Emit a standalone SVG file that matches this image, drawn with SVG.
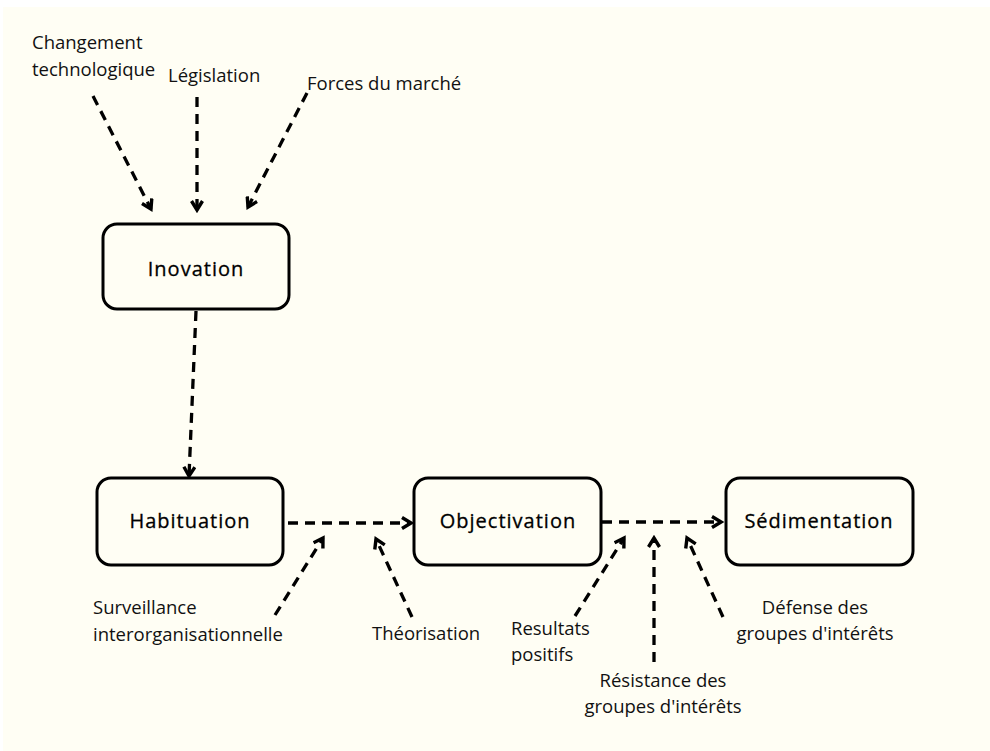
<svg xmlns="http://www.w3.org/2000/svg" width="990" height="751" viewBox="0 0 990 751">
<defs>
<marker id="ah" viewBox="0 0 14 14" refX="11" refY="7" markerWidth="14" markerHeight="14" markerUnits="userSpaceOnUse" orient="auto">
<path d="M2,1.5 L11,7 L2,12.5" fill="none" stroke="#000" stroke-width="3.4"/>
</marker>
<style>
.bg{fill:#FFFEF4}
.box{fill:#FFFEF4;stroke:#000;stroke-width:3}
.bl{font-family:"Open Sans","Noto Sans",sans-serif;font-size:20px;letter-spacing:1px;fill:#000;stroke:#000;stroke-width:0.3;text-anchor:middle}
.lb{font-family:"Open Sans","Noto Sans",sans-serif;font-size:18.5px;fill:#111}
.c{text-anchor:middle}
.ar{fill:none;stroke:#000;stroke-width:3.3;stroke-dasharray:10 7;marker-end:url(#ah)}
</style>
</defs>
<rect width="990" height="751" fill="#fff"/>
<rect class="bg" x="3" y="7" width="987" height="744"/>
<g id="connectors">
<line class="ar" x1="93" y1="96" x2="151" y2="209"/>
<line class="ar" x1="197" y1="97" x2="197" y2="210"/>
<line class="ar" x1="307" y1="93" x2="248" y2="207"/>
<line class="ar" x1="196" y1="311" x2="189" y2="476"/>
<line class="ar" x1="288" y1="523" x2="411" y2="523"/>
<line class="ar" x1="602" y1="522" x2="721" y2="522"/>
<line class="ar" x1="275" y1="615" x2="323" y2="538"/>
<line class="ar" x1="412" y1="617" x2="376" y2="539"/>
<line class="ar" x1="575" y1="616" x2="624" y2="538"/>
<line class="ar" x1="654" y1="662" x2="654" y2="538"/>
<line class="ar" x1="723" y1="617" x2="687" y2="538"/>
</g>
<g id="inovation">
<rect class="box" x="103" y="224" width="186" height="85" rx="14"/>
<text class="bl" x="196" y="276">Inovation</text>
</g>
<g id="habituation">
<rect class="box" x="97" y="478" width="186" height="87" rx="14"/>
<text class="bl" x="190" y="528">Habituation</text>
</g>
<g id="objectivation">
<rect class="box" x="414" y="478" width="187" height="87" rx="14"/>
<text class="bl" x="508" y="528">Objectivation</text>
</g>
<g id="sedimentation">
<rect class="box" x="726" y="478" width="187" height="87" rx="14"/>
<text class="bl" x="819" y="528">Sédimentation</text>
</g>
<g id="labels">
<text class="lb" x="32" y="49">Changement</text>
<text class="lb" x="32" y="76">technologique</text>
<text class="lb" x="168" y="82">Législation</text>
<text class="lb" x="307" y="90">Forces du marché</text>
<text class="lb" x="93" y="614">Surveillance</text>
<text class="lb" x="93" y="641">interorganisationnelle</text>
<text class="lb" x="372" y="640">Théorisation</text>
<text class="lb" x="511" y="635">Resultats</text>
<text class="lb" x="511" y="661">positifs</text>
<text class="lb c" x="663" y="687">Résistance des</text>
<text class="lb c" x="663" y="713">groupes d'intérêts</text>
<text class="lb c" x="815" y="614">Défense des</text>
<text class="lb c" x="815" y="640">groupes d'intérêts</text>
</g>
</svg>
